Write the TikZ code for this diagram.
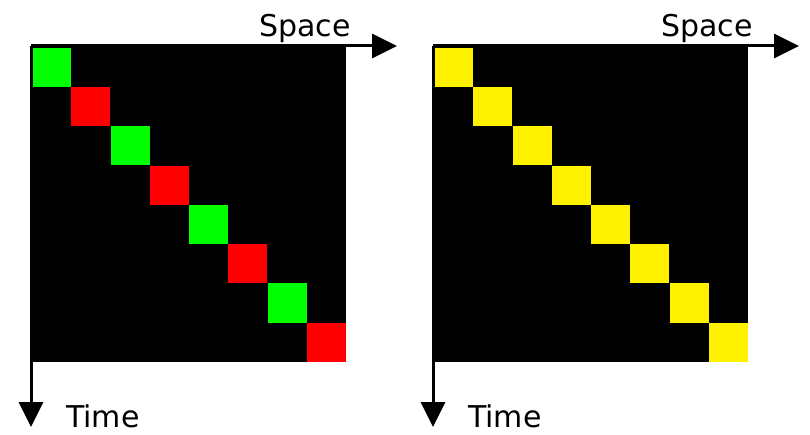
\documentclass[tikz,border=0pt]{standalone}
\usepackage{fontspec}
\setmainfont{DejaVu Sans}
\usetikzlibrary{arrows.meta}
\begin{document}
\begin{tikzpicture}[x=1pt,y=-1pt,
  axis/.style={line width=3pt,-{Triangle[length=25pt,width=24pt]}},
  lbl/.style={inner sep=0pt,anchor=base west,font=\fontsize{30}{30}\selectfont}]
\useasboundingbox (0,0) rectangle (810,435);
\foreach \ox/\ca/\cb/\p in {0/green/red/L,402/yellow/yellow/R}{
  \begin{scope}[xshift=\ox pt]
    \fill[black] (31,46) rectangle (346,362);
    \foreach \i in {0,...,7}{
      \pgfmathsetmacro{\xa}{32+39.25*\i}
      \pgfmathsetmacro{\ya}{48+39.25*\i}
      \pgfmathtruncatemacro{\odd}{mod(\i,2)}
      \ifnum\odd=0
        \fill[\ca] (\xa,\ya) rectangle ++(39,39);
      \else
        \fill[\cb] (\xa,\ya) rectangle ++(39,39);
      \fi
    }
    \coordinate (o\p) at (31,46);
    \coordinate (sx\p) at (397,46);
    \coordinate (tx\p) at (31,427);
    \draw[axis] (o\p) -- (sx\p);
    \draw[axis] (o\p) -- (tx\p);
    \node[lbl] (space\p) at (259,37) {Space};
    \node[lbl] (time\p) at (66,427) {Time};
  \end{scope}
}
\end{tikzpicture}
\end{document}
